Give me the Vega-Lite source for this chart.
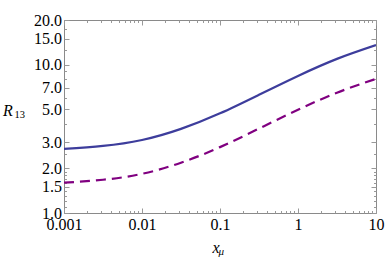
{
  "$schema": "https://vega.github.io/schema/vega-lite/v6.json",
  "width": 312,
  "height": 193,
  "autosize": {"type": "none"},
  "padding": {"left": 64, "top": 20, "right": 10, "bottom": 49},
  "background": "white",
  "config": {
    "view": {"stroke": "#8a8a8a", "strokeWidth": 1},
    "axis": {"grid": false, "domain": false, "labelFont": "Liberation Serif", "titleFont": "Liberation Serif", "labelColor": "#000000", "titleColor": "#000000", "tickColor": "#999999", "titleFontWeight": "normal", "tickWidth": 1}
  },
  "datasets": {
    "solid": [
      {"x": 0.001, "y": 2.704}, {"x": 0.00316, "y": 2.831}, {"x": 0.01, "y": 3.105}, {"x": 0.0316, "y": 3.690},
      {"x": 0.1, "y": 4.699}, {"x": 0.316, "y": 6.266}, {"x": 1, "y": 8.395}, {"x": 3.16, "y": 10.94}, {"x": 10, "y": 13.55}
    ],
    "dashed": [
      {"x": 0.001, "y": 1.600}, {"x": 0.00316, "y": 1.675}, {"x": 0.01, "y": 1.837}, {"x": 0.0316, "y": 2.183},
      {"x": 0.1, "y": 2.780}, {"x": 0.316, "y": 3.707}, {"x": 1, "y": 4.966}, {"x": 3.16, "y": 6.471}, {"x": 10, "y": 8.017}
    ]
  },
  "layer": [
    {
      "data": {"name": "dashed"},
      "mark": {"type": "line", "color": "#800080", "strokeWidth": 2.2, "strokeDash": [10, 6], "interpolate": "natural", "clip": true},
      "encoding": {
        "x": {"field": "x", "type": "quantitative", "scale": {"type": "log", "domain": [0.001, 10], "nice": false},
          "axis": {"orient": "top", "values": [0.001,0.002,0.003,0.004,0.005,0.006,0.007,0.008,0.009,0.01,0.02,0.03,0.04,0.05,0.06,0.07,0.08,0.09,0.1,0.2,0.3,0.4,0.5,0.6,0.7,0.8,0.9,1,2,3,4,5,6,7,8,9,10],
            "labels": false, "title": null,
            "tickSize": {"condition": {"test": "indexof([0.001,0.01,0.1,1,10], datum.value) >= 0", "value": -5}, "value": -2.5}}},
        "y": {"field": "y", "type": "quantitative", "scale": {"type": "log", "domain": [1, 20], "nice": false},
          "axis": {"orient": "right", "values": [1,1.1,1.2,1.3,1.4,1.5,1.6,1.7,1.8,1.9,2,2.5,3,4,5,6,7,8,9,10,12.5,15,17.5,20],
            "labels": false, "title": null,
            "tickSize": {"condition": {"test": "indexof([1,1.5,2,3,5,7,10,15,20], datum.value) >= 0", "value": -5}, "value": -2.5}}}
      }
    },
    {
      "data": {"name": "solid"},
      "mark": {"type": "line", "color": "#3d3d9c", "strokeWidth": 2.2, "interpolate": "natural", "clip": true},
      "encoding": {
        "x": {"field": "x", "type": "quantitative", "scale": {"type": "log", "domain": [0.001, 10], "nice": false},
          "axis": {"orient": "bottom", "values": [0.001, 0.01, 0.1, 1, 10], "format": "~g", "ticks": false, "tickSize": 0,
            "labelPadding": 3, "labelFontSize": 16, "labelFlush": false, "labelOverlap": false, "labelBaseline": "top", "labelAlign": "center",
            "title": "x", "titleFontStyle": "italic", "titleFontSize": 16, "titleX": 148, "titleY": 39, "titleAlign": "left", "titleBaseline": "alphabetic"}},
        "y": {"field": "y", "type": "quantitative", "scale": {"type": "log", "domain": [1, 20], "nice": false},
          "axis": {"orient": "left", "values": [1, 1.5, 2, 3, 5, 7, 10, 15, 20], "format": ".1f", "ticks": false, "tickSize": 0,
            "labelPadding": 2.5, "labelFontSize": 16, "labelFlush": false, "labelOverlap": false, "labelBaseline": "middle", "labelAlign": "right",
            "title": "R", "titleFontStyle": "italic", "titleFontSize": 16, "titleAngle": 0, "titleX": -61.5, "titleY": 95, "titleAlign": "left", "titleBaseline": "alphabetic"}}
      }
    },
    {
      "data": {"name": "solid"},
      "mark": {"type": "line", "opacity": 0},
      "encoding": {
        "x": {"field": "x", "type": "quantitative", "scale": {"type": "log", "domain": [0.001, 10], "nice": false},
          "axis": {"orient": "bottom", "values": [0.001,0.002,0.003,0.004,0.005,0.006,0.007,0.008,0.009,0.01,0.02,0.03,0.04,0.05,0.06,0.07,0.08,0.09,0.1,0.2,0.3,0.4,0.5,0.6,0.7,0.8,0.9,1,2,3,4,5,6,7,8,9,10],
            "labels": false,
            "tickSize": {"condition": {"test": "indexof([0.001,0.01,0.1,1,10], datum.value) >= 0", "value": -5}, "value": -2.5},
            "title": "μ", "titleFontStyle": "italic", "titleFontSize": 11, "titleX": 154, "titleY": 41, "titleAlign": "left", "titleBaseline": "alphabetic"}},
        "y": {"field": "y", "type": "quantitative", "scale": {"type": "log", "domain": [1, 20], "nice": false},
          "axis": {"orient": "left", "values": [1,1.1,1.2,1.3,1.4,1.5,1.6,1.7,1.8,1.9,2,2.5,3,4,5,6,7,8,9,10,12.5,15,17.5,20],
            "labels": false,
            "tickSize": {"condition": {"test": "indexof([1,1.5,2,3,5,7,10,15,20], datum.value) >= 0", "value": -5}, "value": -2.5},
            "title": "13", "titleFontSize": 10.5, "titleAngle": 0, "titleX": -50, "titleY": 97.5, "titleAlign": "left", "titleBaseline": "alphabetic"}}
      }
    }
  ],
  "resolve": {"axis": {"x": "independent", "y": "independent"}}
}
